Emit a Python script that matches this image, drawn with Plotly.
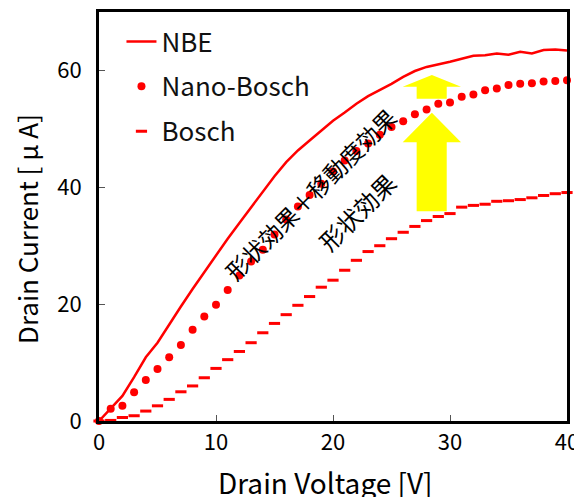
import plotly.graph_objects as go

voltage = list(range(0, 41))

nbe_current = [0, 2.2, 4.3, 7.5, 10.9, 13.4, 16.6, 19.6, 22.6, 25.5, 28.4,
               31.2, 33.9, 36.6, 39.2, 41.9, 44.3, 46.3, 48.0, 49.7, 51.4,
               52.8, 54.3, 55.6, 56.6, 57.7, 58.9, 59.9, 60.6, 61.0, 61.5,
               62.0, 62.5, 62.6, 62.9, 62.7, 63.2, 62.9, 63.5, 63.6, 63.4]

nano_bosch_current = [0, 2.1, 2.6, 4.9, 7.0, 8.9, 10.9, 13.0, 15.6, 17.9, 19.9,
                      22.4, 24.9, 27.3, 29.3, 31.9, 34.5, 36.7, 38.7, 40.6, 42.7,
                      44.6, 46.2, 47.5, 49.0, 50.3, 51.3, 52.5, 53.3, 54.3, 54.5,
                      55.5, 55.9, 56.6, 56.9, 57.5, 57.7, 57.8, 58.1, 58.2, 58.3]

bosch_current = [0, 0.1, 0.6, 0.9, 1.7, 2.6, 3.7, 5.0, 6.0, 7.4, 9.0,
                 10.5, 11.9, 13.4, 15.1, 16.7, 18.2, 19.8, 21.3, 22.9, 24.1,
                 25.8, 27.5, 29.0, 30.0, 31.2, 32.3, 33.3, 34.3, 35.0, 35.5,
                 36.6, 36.9, 37.1, 37.6, 37.7, 37.9, 38.2, 38.6, 38.9, 39.1]

x_ticks = [0, 10, 20, 30, 40]
y_ticks = [0, 20, 40, 60]

FONT = "Noto Sans CJK JP"
RED = "#ff0000"

fig = go.Figure()
fig.add_trace(go.Scatter(x=voltage, y=nbe_current, mode="lines", name="NBE",
                         line=dict(color=RED, width=2.5), legendgroup="a",
                         cliponaxis=False))
fig.add_trace(go.Scatter(x=voltage, y=nano_bosch_current, mode="markers", name="Nano-Bosch",
                         marker=dict(color=RED, size=8), legendgroup="b",
                         cliponaxis=False))
fig.add_trace(go.Scatter(x=voltage, y=bosch_current, mode="markers", name="Bosch",
                         marker=dict(symbol="line-ew", size=8, color=RED,
                                     line=dict(color=RED, width=3)),
                         legendgroup="c", cliponaxis=False))

# yellow arrows (annotation graphics)
big_arrow = "M 27.15 35.9 L 27.15 47.7 L 25.96 47.7 L 28.45 52.75 L 30.94 47.7 L 29.72 47.7 L 29.72 35.9 Z"
small_arrow = "M 27.15 55.15 L 27.15 57.2 L 25.96 57.2 L 28.45 59.2 L 30.94 57.2 L 29.72 57.2 L 29.72 55.15 Z"
for p in (big_arrow, small_arrow):
    fig.add_shape(type="path", path=p, xref="x", yref="y", fillcolor="#ffff00",
                  line=dict(width=0), layer="below")

fig.add_annotation(x=18.03, y=38.9, xref="x", yref="y", text="形状効果＋移動度効果",
                   textangle=-45, showarrow=False,
                   font=dict(family=FONT, size=23, color="black"))
fig.add_annotation(x=22.05, y=35.8, xref="x", yref="y", text="形状効果",
                   textangle=-45, showarrow=False,
                   font=dict(family=FONT, size=24, color="black"))

# axis titles
fig.add_annotation(x=(325 - 99) / 468, y=-(482 - 421) / 409, xref="paper", yref="paper",
                   text="Drain Voltage [V]", showarrow=False, xanchor="center", yanchor="middle",
                   font=dict(family=FONT, size=28, color="black"))
fig.add_annotation(x=(26 - 99) / 468, y=(421 - 229) / 409, xref="paper", yref="paper",
                   text="Drain Current [ μ A]", showarrow=False, textangle=-90,
                   xanchor="center", yanchor="middle",
                   font=dict(family=FONT, size=26, color="black"))

axis_common = dict(showgrid=False, zeroline=False, showline=True, linecolor="black",
                   linewidth=3, mirror=True, ticks="inside", ticklen=6,
                   tickcolor="#555555", tickwidth=1, automargin=False,
                   tickfont=dict(family=FONT, size=22, color="black"))

fig.update_xaxes(range=[0, 40], tickvals=x_ticks, ticktext=[str(v) for v in x_ticks],
                 **axis_common)
fig.update_yaxes(range=[0, 70], tickvals=y_ticks, ticktext=[str(v) for v in y_ticks],
                 ticklabelstandoff=10,
                 **axis_common)

# the page body adds an 8px margin, so the figure is sized to fit the window
fig.update_layout(
    width=574, height=489,
    margin=dict(l=91, r=15, t=4, b=76),
    paper_bgcolor="white", plot_bgcolor="white",
    font=dict(family=FONT, color="black"),
    legend=dict(x=0.048, y=0.985, xanchor="left", yanchor="top",
                font=dict(family=FONT, size=26, color="#111111"),
                bgcolor="rgba(0,0,0,0)", tracegroupgap=8, traceorder="grouped"),
    showlegend=True,
)

fig.write_html("out.html")
